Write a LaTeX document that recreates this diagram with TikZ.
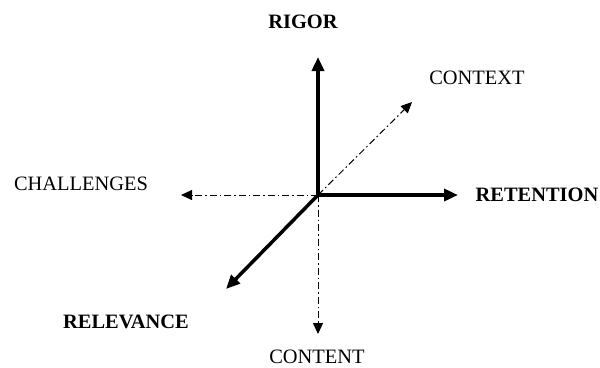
\documentclass[tikz,border=0pt]{standalone}
\usepackage{fontspec}
\setmainfont{Liberation Serif}
\usetikzlibrary{arrows.meta}

\begin{document}
\begin{tikzpicture}[x=1bp, y=-1bp,
    axis/.style={line width=3.5bp, -{Triangle[length=14bp, width=12bp]}},
    minor/.style={line width=1bp, dash pattern=on 7bp off 3bp on 1.5bp off 3bp,
      -{Triangle[length=11bp, width=10bp]}},
    major/.style={font=\fontsize{20.5}{22}\selectfont\bfseries},
    side/.style={font=\fontsize{20.5}{22}\selectfont}
  ]
  \useasboundingbox (0,0) rectangle (600,367);
  \coordinate (o) at (318,195);
  % end points of the six directions
  \coordinate (rigorend) at (318,57);
  \coordinate (retentionend) at (458,195);
  \coordinate (relevanceend) at (226,289);
  \coordinate (contextend) at (412,102);
  \coordinate (challengesend) at (181,195);
  \coordinate (contentend) at (318,334);

  \draw[minor] (o) -- (contextend);
  \draw[minor] (o) -- (challengesend);
  \draw[minor] (o) -- (contentend);
  \draw[axis] (o) -- (rigorend);
  \draw[axis] (o) -- (retentionend);
  \draw[axis] (o) -- (relevanceend);

  % labels
  \node[major] (rigor) at (303,22) {RIGOR};
  \node[major] (retention) at (537,195) {RETENTION};
  \node[major] (relevance) at (126,322) {RELEVANCE};
  \node[side] (context) at (477,78) {CONTEXT};
  \node[side] (challenges) at (81,184) {CHALLENGES};
  \node[side] (content) at (317,357) {CONTENT};
\end{tikzpicture}
\end{document}
